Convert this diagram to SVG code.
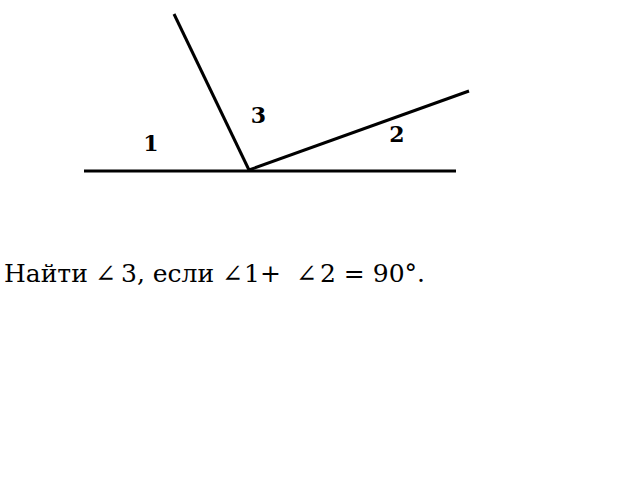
<svg xmlns="http://www.w3.org/2000/svg" width="640" height="480" viewBox="0 0 640 480">
<style>
.ln{stroke:#000;stroke-width:3;fill:none;stroke-linecap:butt}
.lbl{font-family:"DejaVu Serif",serif;font-weight:bold;font-size:22px;fill:#000;text-anchor:middle}
.txt{font-family:"DejaVu Serif",serif;font-size:25px;fill:#000}
</style>
<rect width="640" height="480" fill="#fff"/>
<line class="ln" x1="84" y1="171" x2="456" y2="171"/>
<line class="ln" x1="249" y1="170" x2="174" y2="14"/>
<line class="ln" x1="249" y1="170" x2="469" y2="91"/>
<text class="lbl" x="258.5" y="123">3</text>
<text class="lbl" x="397" y="142">2</text>
<text class="lbl" x="151" y="151">1</text>
<text class="txt" y="282"><tspan x="4">Найти </tspan><tspan x="95">∠</tspan><tspan x="121">3, если </tspan><tspan x="222">∠</tspan><tspan x="244">1+ </tspan><tspan x="296">∠</tspan><tspan x="320">2 = 90°.</tspan></text>
</svg>
